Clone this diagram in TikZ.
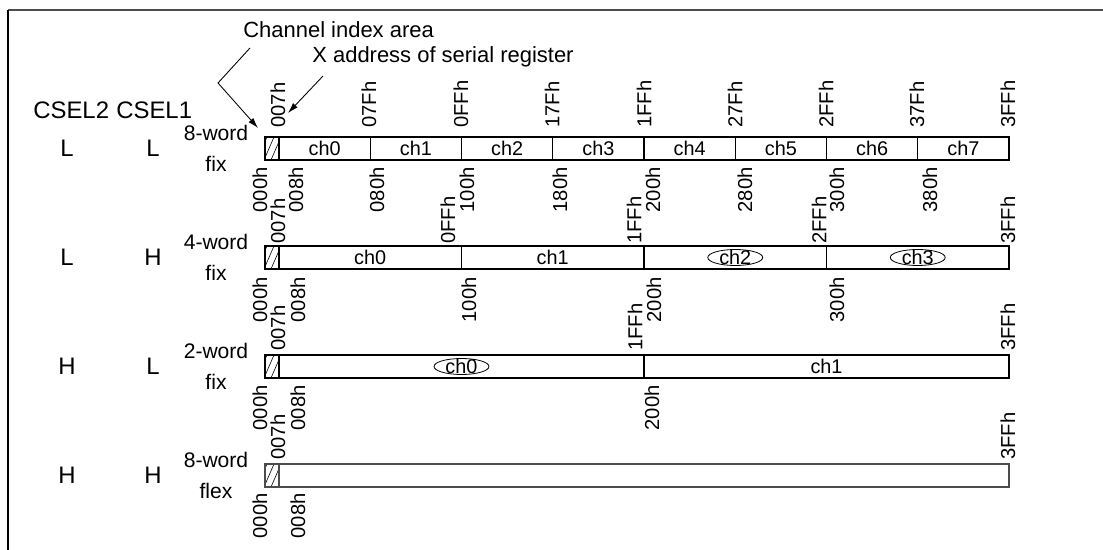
\documentclass[tikz,border=0pt]{standalone}
\usepackage{fontspec}
\setmainfont{Liberation Sans}
\usetikzlibrary{arrows.meta}
\begin{document}
\begin{tikzpicture}[x=0.02cm, y=-0.02cm,
    sel/.style={font=\fontsize{13.6}{16}\selectfont, inner sep=0pt},
    mode/.style={font=\fontsize{12}{17.6}\selectfont, align=center, inner sep=0pt},
    chan/.style={font=\fontsize{11.3}{13}\selectfont, inner sep=0pt},
    hexup/.style={font=\fontsize{11.5}{13}\selectfont, rotate=90, anchor=west, inner sep=0pt},
    hexdn/.style={font=\fontsize{11.5}{13}\selectfont, rotate=90, anchor=east, inner sep=0pt},
    note/.style={font=\fontsize{12.5}{15}\selectfont, anchor=base west, inner sep=0pt},
    area/.style={draw=black, line width=0.75pt},
    pointer/.style={-{Latex[length=6pt,width=3.6pt]}, line width=0.5pt}]
    \useasboundingbox (0,0) rectangle (1103,550);

    % --- FRAME ---
    \draw[black!70, line width=1pt] (8,10) -- (1103,10);
    \draw[black, line width=0.9pt] (8,10) -- (8,550);

    % --- HEADINGS ---
    \node[note] (idxnote) at (243,38) {Channel index area};
    \node[note] (xadnote) at (312,63) {X address of serial register};
    \node[sel, anchor=base west] (sel2) at (33,119) {CSEL2};
    \node[sel, anchor=base west] (sel1) at (116,119) {CSEL1};

    % --- POINTERS ---
    \coordinate (idxfrom) at (250,48);
    \coordinate (idxbend) at (218,83);
    \coordinate (idxto) at (258,128);
    \coordinate (xadfrom) at (323,76);
    \coordinate (xadto) at (288,113);
    \draw[pointer] (idxfrom) -- (idxbend) -- (idxto);
    \draw[pointer] (xadfrom) -- (xadto);

    % --- ROWS: CSEL levels and mode ---
    \foreach \yc/\a/\b/\m [count=\i] in {148.5/L/L/8-word\\fix, 257.5/L/H/4-word\\fix,
                                         366.5/H/L/2-word\\fix, 475.5/H/H/8-word\\flex} {
        \node[sel] (lv2-\i) at (67,\yc) {\a};
        \node[sel] (lv1-\i) at (153,\yc) {\b};
        \node[mode] (mode-\i) at (216,\yc) {\m};
    }

    % --- ADDRESS BARS with hatched index cell ---
    \foreach \t/\c in {137/black, 246/black, 355/black, 464/black!70} {
        \begin{scope}
            \clip (265,\t) rectangle (279,\t+23);
            \foreach \d in {-8,-1,6,13}
                \draw[line width=0.35pt] (265+\d,\t+23) -- (275+\d,\t);
        \end{scope}
        \draw[area, draw=\c] (265,\t) rectangle (1009,\t+23);
        \draw[area, draw=\c] (279,\t) -- (279,\t+23);
    }

    % --- CHANNEL DIVIDERS ---
    \foreach \x in {370.25, 461.5, 552.75, 644, 735.25, 826.5, 917.75}
        \draw[area] (\x,137) -- (\x,160);
    \foreach \x in {461.5, 644, 826.5}
        \draw[area] (\x,246) -- (\x,269);
    \draw[area] (644,355) -- (644,378);

    % --- CHANNEL NAMES ---
    \foreach \n in {0,...,7}
        \node[chan] (c1-\n) at (324.6+91.25*\n,148.5) {ch\n};
    \foreach \n in {0,...,3}
        \node[chan] (c2-\n) at (370.25+182.5*\n,257.5) {ch\n};
    \foreach \n in {0,1}
        \node[chan] (c3-\n) at (461.5+365*\n,366.5) {ch\n};
    \foreach \nd in {c2-2, c2-3, c3-0}
        \draw[line width=0.45pt] (\nd.center) ellipse [x radius=0.55cm, y radius=0.16cm];

    % --- ADDRESS LABELS: 8-word fix ---
    \foreach \x/\txt [count=\i] in {278/007h, 369/07Fh, 461/0FFh, 552/17Fh, 644/1FFh,
                                    735/27Fh, 826/2FFh, 917/37Fh, 1008/3FFh}
        \node[hexup] (u1-\i) at (\x,128) {\txt};
    \foreach \x/\txt [count=\i] in {260/000h, 296/008h, 377/080h, 467/100h, 560/180h,
                                    653/200h, 745/280h, 837/300h, 930/380h}
        \node[hexdn] (d1-\i) at (\x,167) {\txt};

    % --- ADDRESS LABELS: 4-word fix ---
    \foreach \x/\txt [count=\i] in {278/007h, 448/0FFh, 634/1FFh, 819/2FFh, 1008/3FFh}
        \node[hexup] (u2-\i) at (\x,244) {\txt};
    \foreach \x/\txt [count=\i] in {260/000h, 298/008h, 469/100h, 654/200h, 837/300h}
        \node[hexdn] (d2-\i) at (\x,277) {\txt};

    % --- ADDRESS LABELS: 2-word fix ---
    \foreach \x/\txt [count=\i] in {278/007h, 635/1FFh, 1008/3FFh}
        \node[hexup] (u3-\i) at (\x,351) {\txt};
    \foreach \x/\txt [count=\i] in {260/000h, 298/008h, 652/200h}
        \node[hexdn] (d3-\i) at (\x,385) {\txt};

    % --- ADDRESS LABELS: 8-word flex ---
    \foreach \x/\txt [count=\i] in {278/007h, 1008/3FFh}
        \node[hexup] (u4-\i) at (\x,460) {\txt};
    \foreach \x/\txt [count=\i] in {260/000h, 298/008h}
        \node[hexdn] (d4-\i) at (\x,493) {\txt};

\end{tikzpicture}
\end{document}
